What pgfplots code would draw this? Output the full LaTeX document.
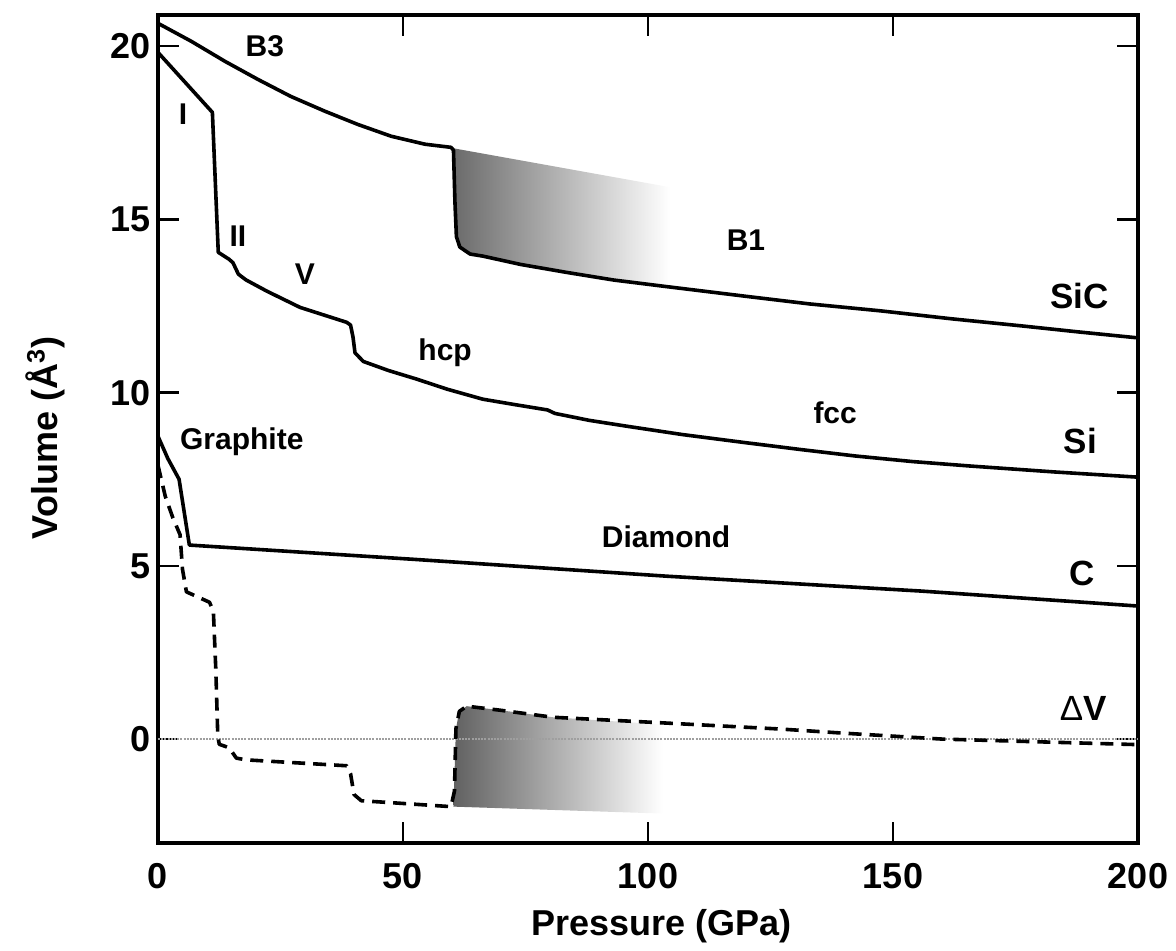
\documentclass[border=0pt]{standalone}
\usepackage{fontspec}
\setmainfont{Liberation Sans}
\usepackage{pgfplots}
\pgfplotsset{compat=1.18}
\begin{document}
\begin{tikzpicture}
\begin{axis}[
  at={(0,0)}, anchor=south west,
  scale only axis, width=490pt, height=414pt,
  xmin=0, xmax=200, ymin=-3, ymax=20.9,
  xtick={0,50,100,150,200}, ytick={0,5,10,15,20},
  tick align=inside, major tick length=10.5pt,
  every tick/.style={black, line width=1.3pt},
  axis line style={line width=2pt},
  /pgf/number format/assume math mode=true,
  ticklabel style={font=\fontsize{18}{20}\selectfont\bfseries},
  xticklabel style={yshift=-6.5pt},
  xlabel={Pressure (GPa)},
  ylabel={Volume (Å\textsuperscript{3})},
  label style={font=\fontsize{18}{20}\selectfont\bfseries},
  xlabel style={at={(axis description cs:0.514,-0.1111)}, anchor=base},
  ylabel style={at={(axis description cs:-0.1153,0.489)}, anchor=center},
  clip=false,
]
% shaded metastable regions
\addplot[draw=none, left color=black!58, right color=white, forget plot]
  coordinates {(60.4,17.05) (104.5,15.93) (104.5,13.03) (103.8,13.04) (83.4,13.47) (66.3,13.94) (63.7,14.0) (61.6,14.2) (60.9,14.5)} -- cycle;
\addplot[draw=none, left color=black!62, right color=white, forget plot]
  coordinates {(60.8,0.3) (61.5,0.8) (63,0.95) (70,0.83) (80.6,0.63) (103,0.42) (103,-2.15) (60.3,-1.95)} -- cycle;
% zero line
\addplot[gray!75, line width=1.3pt, dash pattern=on 1pt off 0.6pt, forget plot]
  coordinates {(0,0) (200,0)};
% SiC
\addplot[black, line width=1.8pt, line join=round]
  coordinates {(0,20.66) (6.8,20.14) (13.7,19.56) (20.4,19.04) (27.1,18.55) (34.1,18.12) (40.8,17.74) (47.6,17.4) (54.5,17.17) (59.8,17.08) (60.3,17.0) (60.6,15.5) (60.9,14.5) (61.6,14.2) (63.7,14.0) (66.3,13.94) (74,13.7) (83.4,13.47) (93,13.25) (103.8,13.06) (120,12.78) (133,12.56) (147.5,12.36) (162,12.13) (176,11.93) (188,11.75) (200,11.58)};
% Si
\addplot[black, line width=1.8pt, line join=round]
  coordinates {(0,19.82) (11.1,18.09) (12.3,14.05) (14.5,13.85) (15.3,13.75) (16.4,13.42) (18,13.25) (22.2,12.93) (29,12.46) (38.5,12.03) (39.3,11.95) (39.8,11.6) (40.2,11.15) (41.9,10.9) (47,10.64) (52.8,10.39) (59,10.1) (66.3,9.81) (73,9.65) (79.5,9.5) (81,9.4) (88,9.2) (95.7,9.03) (107,8.79) (119.1,8.57) (131,8.36) (142.4,8.17) (154,8.01) (165.9,7.88) (183,7.71) (200,7.56)};
% C
\addplot[black, line width=1.8pt, line join=round]
  coordinates {(0,8.74) (2,8.1) (4.3,7.5) (6.4,5.6) (52,5.19) (104,4.7) (156,4.27) (200,3.84)};
% Delta V
\addplot[black, line width=1.8pt, line join=round, dash pattern=on 6.5pt off 4pt]
  coordinates {(0,7.9) (1.5,7.0) (3,6.4) (4.5,5.9) (5,4.9) (5.8,4.25) (10.5,3.95) (11.3,3.7) (11.8,2) (12.2,0.1) (12.5,-0.15) (14.5,-0.25) (16,-0.55) (18,-0.6) (38.5,-0.77) (39.3,-1.0) (40,-1.6) (41.5,-1.78) (47,-1.83) (59.8,-1.95) (60.5,-1.5) (60.8,0.3) (61.5,0.8) (63,0.95) (70,0.83) (80.6,0.63) (100,0.49) (127,0.29) (140,0.17) (160,0.0) (180,-0.08) (200,-0.16)};
% phase labels
\begin{scope}[every node/.style={font=\fontsize{15}{17}\selectfont\bfseries}]
\node at (axis cs:21.8,20.0) {B3};
\node at (axis cs:5.1,18.03) {I};
\node at (axis cs:16.3,14.51) {II};
\node at (axis cs:30,13.42) {V};
\node at (axis cs:58.6,11.15) {hcp};
\node at (axis cs:138.2,9.43) {fcc};
\node at (axis cs:17.1,8.57) {Graphite};
\node at (axis cs:103.7,5.83) {Diamond};
\node at (axis cs:120,14.4) {B1};
\end{scope}
\begin{scope}[every node/.style={font=\fontsize{17.5}{19}\selectfont\bfseries}]
\node at (axis cs:188,12.78) {SiC};
\node at (axis cs:188.2,8.6) {Si};
\node at (axis cs:188.5,4.77) {C};
\node at (axis cs:188.8,0.87) {{\mdseries Δ}V};
\end{scope}
\end{axis}
\pgfresetboundingbox
\path (-79pt,-53.5pt) rectangle (509pt,421.5pt);
\end{tikzpicture}
\end{document}
